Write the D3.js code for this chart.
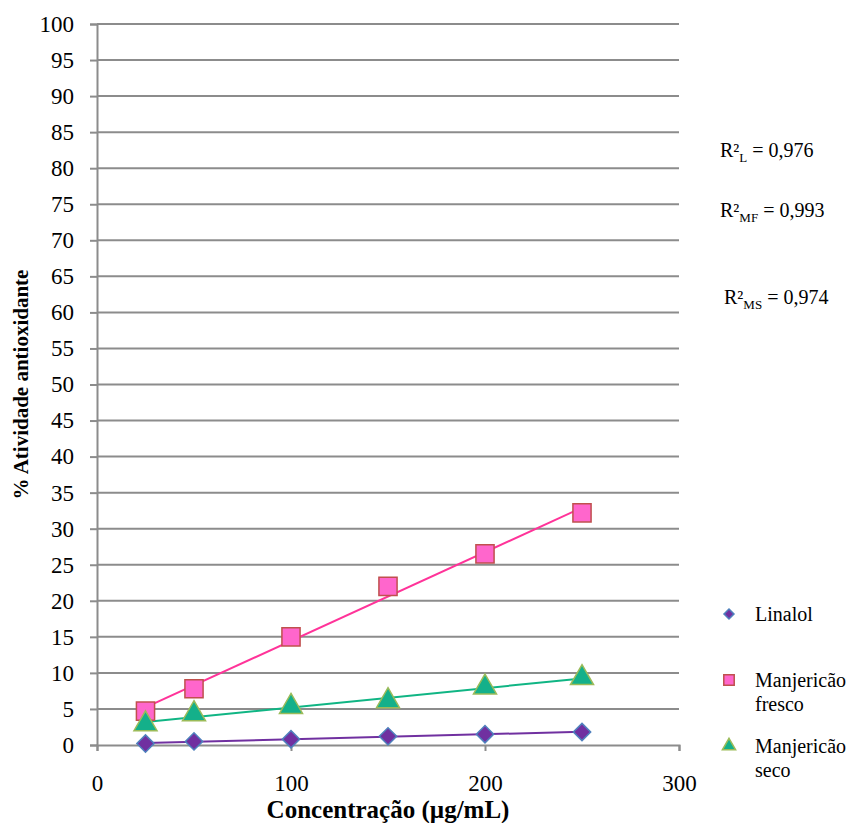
<!DOCTYPE html>
<html>
<head>
<meta charset="utf-8">
<script src="https://cdn.jsdelivr.net/npm/d3@7"></script>
<style>
  body { margin: 0; background: #fff; }
</style>
</head>
<body>
<div class="svg-container"></div>
<script>
// data
var concentracao = [25, 50, 100, 150, 200, 250];
var linalol = [0.2, 0.5, 0.8, 1.2, 1.5, 1.8];
var manjFresco = [4.7, 7.8, 15.0, 22.0, 26.5, 32.2];
var manjSeco = [2.9, 4.3, 5.3, 6.1, 8.0, 9.3];
var yTicks = d3.range(0, 101, 5);
var xTicks = [0, 100, 200, 300];
var r2Labels = [
  { sub: "L", val: "0,976" },
  { sub: "MF", val: "0,993" },
  { sub: "MS", val: "0,974" }
];

var W = 855, H = 823;
var margin = { left: 97, right: 176, top: 24, bottom: 78 };
var SERIF = "Liberation Serif, Times New Roman, serif";

var svg = d3.select(".svg-container").append("svg")
  .attr("width", W).attr("height", H)
  .style("font-family", SERIF);

var x = d3.scaleLinear().domain([0, 300]).range([margin.left, W - margin.right]);
var y = d3.scaleLinear().domain([0, 100]).range([H - margin.bottom, margin.top]);

// gridlines
svg.append("g").selectAll("line").data(yTicks.slice(1)).enter().append("line")
  .attr("x1", x(0)).attr("x2", x(300))
  .attr("y1", function(d) { return y(d); }).attr("y2", function(d) { return y(d); })
  .attr("stroke", "#8c8c8c").attr("stroke-width", 2);

// y axis
var yAxis = svg.append("g").attr("transform", "translate(" + x(0) + ",0)")
  .call(d3.axisLeft(y).tickValues(yTicks).tickSize(7).tickPadding(16));
// x axis
var xAxis = svg.append("g").attr("transform", "translate(0," + y(0) + ")")
  .call(d3.axisBottom(x).tickValues(xTicks).tickSize(6).tickPadding(24));

[yAxis, xAxis].forEach(function(a) {
  a.attr("font-family", null).attr("font-size", 23);
  a.select(".domain").attr("stroke", "#8c8c8c").attr("stroke-width", 2);
  a.selectAll(".tick line").attr("stroke", "#8c8c8c").attr("stroke-width", 2);
  a.selectAll(".tick text").attr("fill", "#000");
});

// axis titles
svg.append("text").attr("x", x(150)).attr("y", 818)
  .attr("text-anchor", "middle").attr("font-size", 25).attr("font-weight", "bold")
  .text("Concentração (µg/mL)");
svg.append("text").attr("transform", "translate(28," + y(50) + ") rotate(-90)")
  .attr("text-anchor", "middle").attr("font-size", 21).attr("font-weight", "bold")
  .text("% Atividade antioxidante");

// linear trendline
function fit(xs, ys) {
  var mx = d3.mean(xs), my = d3.mean(ys);
  var num = d3.sum(xs, function(v, i) { return (v - mx) * (ys[i] - my); });
  var den = d3.sum(xs, function(v) { return (v - mx) * (v - mx); });
  var b = num / den;
  return { b: b, a: my - b * mx };
}

var series = [
  { name: "Linalol", vals: linalol, line: "#7030a0", fill: "#7030a0", stroke: "#4f81bd", shape: d3.symbolSquare, rot: 45, size: 150 },
  { name: "Manjericão fresco", vals: manjFresco, line: "#ff3399", fill: "#ff66cc", stroke: "#c0504d", shape: d3.symbolSquare, rot: 0, size: 330 },
  { name: "Manjericão seco", vals: manjSeco, line: "#10b584", fill: "#14b08a", stroke: "#9bbb59", shape: d3.symbolTriangle, rot: 0, size: 230 }
];

// trendlines first
series.forEach(function(s) {
  var f = fit(concentracao, s.vals);
  var x0 = concentracao[0], x1 = concentracao[concentracao.length - 1];
  svg.append("line")
    .attr("x1", x(x0)).attr("y1", y(f.a + f.b * x0))
    .attr("x2", x(x1)).attr("y2", y(f.a + f.b * x1))
    .attr("stroke", s.line).attr("stroke-width", 2);
});

// markers
series.forEach(function(s) {
  svg.append("g").selectAll("path").data(s.vals).enter().append("path")
    .attr("transform", function(d, i) { return "translate(" + x(concentracao[i]) + "," + y(d) + ") rotate(" + s.rot + ")"; })
    .attr("d", d3.symbol().type(s.shape).size(s.size))
    .attr("fill", s.fill).attr("stroke", s.stroke).attr("stroke-width", 1.5);
});

// legend
var legY = [614, 680, 746];
series.forEach(function(s, i) {
  svg.append("path")
    .attr("transform", "translate(729," + legY[i] + ") rotate(" + s.rot + ")")
    .attr("d", d3.symbol().type(s.shape).size(s.size * 0.33))
    .attr("fill", s.fill).attr("stroke", s.stroke).attr("stroke-width", 1.5);
  var words = s.name.split(" ");
  var t = svg.append("text").attr("x", 755).attr("y", legY[i] + 7).attr("font-size", 20);
  words.forEach(function(w, j) {
    t.append("tspan").attr("x", 755).attr("dy", j === 0 ? 0 : 24).text(w);
  });
});

// R² annotations
var r2Pos = [[720, 157], [720, 217], [724, 304]];
r2Labels.forEach(function(r, i) {
  var t = svg.append("text").attr("x", r2Pos[i][0]).attr("y", r2Pos[i][1]).attr("font-size", 20);
  t.append("tspan").text("R²");
  t.append("tspan").attr("dy", 5).attr("font-size", 13).text(r.sub);
  t.append("tspan").attr("dy", -5).text(" = " + r.val);
});
</script>
</body>
</html>
